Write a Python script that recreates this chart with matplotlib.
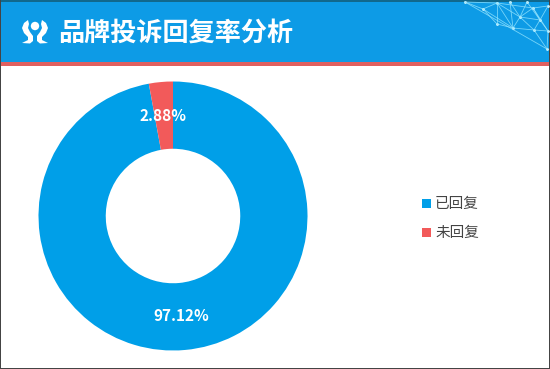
import matplotlib
matplotlib.use('Agg')
import matplotlib.pyplot as plt
from matplotlib.patches import Rectangle, Circle, Polygon

plt.rcParams['font.family'] = ['Noto Sans CJK SC', 'DejaVu Sans']

title = '品牌投诉回复率分析'
labels = ['已回复', '未回复']
values = [97.12, 2.88]
value_labels = ['97.12%', '2.88%']
colors = ['#009fe8', '#f25a5a']

W, H = 550, 369
fig = plt.figure(figsize=(W / 100, H / 100), dpi=100)

# background layer in pixel coords
bg = fig.add_axes([0, 0, 1, 1])
bg.set_xlim(0, W)
bg.set_ylim(H, 0)
bg.axis('off')
bg.add_patch(Rectangle((0, 0), W, 2, color='#11688c', lw=0))
bg.add_patch(Rectangle((0, 2), W, 60, color='#0d9be6', lw=0))
bg.add_patch(Rectangle((0, 62), W, 4, color='#e0605f', lw=0))
bg.add_patch(Rectangle((0, 0), 1, H, color='#444444', lw=0))
bg.add_patch(Rectangle((549, 0), 1, H, color='#444444', lw=0))
bg.add_patch(Rectangle((0, 367.5), W, 1.5, color='#444444', lw=0))

# network pattern, top right of the header
nodes = {'a': (465, 2), 'b': (497, 3), 'c': (483, 9), 'd': (533, 8), 'e': (520, 17),
         'f': (513, 28), 'g': (497, 24), 'h': (548, 31), 'i': (547, 49), 'j': (540, 20),
         'k': (510, 2), 'l': (548, 6), 'm': (527, 2), 'n': (534, 30)}
edges = ['ab', 'ac', 'bc', 'bd', 'be', 'bf', 'bg', 'cg', 'cf', 'gf', 'ef', 'ed', 'ej', 'dj',
         'jh', 'jl', 'dl', 'fn', 'ni', 'nh', 'hi', 'ai', 'ke', 'kf', 'me', 'mj', 'en', 'jn', 'dh']
for p, q in edges:
    bg.plot([nodes[p][0], nodes[q][0]], [nodes[p][1], nodes[q][1]], color='#9be8ff', lw=0.6, alpha=0.75)
bg.scatter([n[0] for n in nodes.values()], [n[1] for n in nodes.values()], s=4, color='#d5f7ff', lw=0)

# logo: circle with two mirrored swooshes
swoosh_x = [28, 24, 22, 24, 28, 28, 22, 30, 33, 33, 30, 28, 29]
swoosh_y = [20, 23, 28, 33, 37, 40, 43, 43.5, 41, 36, 32, 28, 24]
bg.add_patch(Polygon(list(zip(swoosh_x, swoosh_y)), closed=True, color='white', lw=0))
bg.add_patch(Polygon([(70 - x, y) for x, y in zip(swoosh_x, swoosh_y)], closed=True, color='white', lw=0))
bg.add_patch(Circle((35, 26), 4.2, color='white', lw=0))

bg.text(58, 33, title, color='white', fontsize=18.8, fontweight='bold', va='center', ha='left')

# donut
cx, cy, r = 173, 216, 134.5
ax = fig.add_axes([(cx - r) / W, 1 - (cy + r) / H, 2 * r / W, 2 * r / H])
ax.pie(values, colors=colors, startangle=90, counterclock=False, radius=1,
       wedgeprops=dict(width=0.5, linewidth=0))
ax.set_xlim(-1, 1)
ax.set_ylim(-1, 1)

for lab, px, py in zip(value_labels, [181, 163], [316, 116]):
    ax.text((px - cx) / r, (cy - py) / r, lab, color='white', fontsize=11, fontweight='bold',
            ha='center', va='center')

# legend
for y, lab, col in zip([203, 232], labels, colors):
    bg.add_patch(Rectangle((422, y - 4), 9, 9, color=col, lw=0))
    bg.text(435, y + 1, lab, color='#444444', fontsize=10.5, va='center', ha='left')

fig.savefig('out.png', dpi=100)
